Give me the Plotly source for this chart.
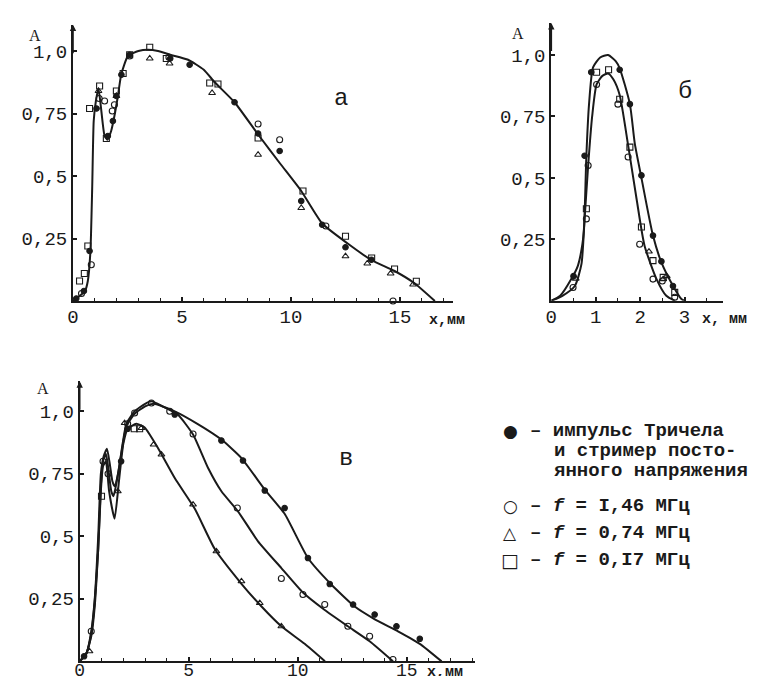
import plotly.graph_objects as go

W, H = 759, 676
INK = "#1a1a1a"
MONO = "Liberation Mono, DejaVu Sans Mono, monospace"

# ---------------- panel a: one fitted curve + four measured series ----------
a_curve_x = [0, 0.3, 0.55, 0.68, 0.8, 0.88, 0.95, 1.05, 1.17, 1.3, 1.45, 1.58, 1.75, 1.9,
             2.06, 2.21, 2.52, 3.0, 3.44, 3.9, 4.46, 5.28, 6.0, 6.5, 7.41, 8.5, 9.5,
             10.47, 11.43, 12.6, 13.7, 14.75, 15.65, 16.6]
a_curve_y = [0, 0.02, 0.04, 0.08, 0.2, 0.45, 0.72, 0.8, 0.85, 0.76, 0.66, 0.645, 0.68, 0.74,
             0.82, 0.905, 0.98, 1.0, 1.005, 1.0, 0.985, 0.965, 0.925, 0.875, 0.795, 0.665, 0.55,
             0.44, 0.31, 0.23, 0.163, 0.12, 0.072, 0.0]

a_dot_x = [0.15, 0.5, 0.76, 1.08, 1.6, 1.83, 1.99, 2.22, 2.6, 4.46, 5.35, 7.41, 8.49, 9.48,
           10.47, 11.43, 12.5, 13.69]
a_dot_y = [0.01, 0.04, 0.2, 0.77, 0.66, 0.72, 0.82, 0.905, 0.985, 0.97, 0.945, 0.795, 0.67,
           0.6, 0.4, 0.305, 0.215, 0.165]
a_circ_x = [0.39, 0.84, 1.2, 1.45, 1.8, 1.9, 2.6, 4.4, 8.49, 9.48, 11.6, 14.68]
a_circ_y = [0.03, 0.145, 0.81, 0.8, 0.76, 0.785, 0.98, 0.975, 0.708, 0.645, 0.3, 0.0]
a_tri_x = [1.17, 1.99, 3.52, 4.43, 6.38, 8.49, 10.47, 12.5, 13.5, 14.57, 15.6]
a_tri_y = [0.84, 0.82, 0.97, 0.95, 0.832, 0.585, 0.372, 0.179, 0.15, 0.11, 0.066]
a_sq_x = [0.3, 0.52, 0.68, 0.76, 1.22, 1.53, 1.99, 2.3, 2.6, 3.52, 4.28, 6.27, 6.65, 8.49,
          10.55, 12.5, 13.7, 14.75, 15.75]
a_sq_y = [0.08, 0.11, 0.22, 0.77, 0.86, 0.65, 0.84, 0.91, 0.985, 1.015, 0.97, 0.872, 0.868,
          0.652, 0.44, 0.259, 0.172, 0.128, 0.079]

# ---------------- panel б: two fitted curves ----------------
b_up_x = [0, 0.2, 0.45, 0.6, 0.7, 0.74, 0.79, 0.85, 0.94, 1.1, 1.28, 1.45, 1.54, 1.77, 1.88,
          2.03, 2.29, 2.48, 2.74, 2.93, 3.0]
b_up_y = [0, 0.02, 0.088, 0.143, 0.23, 0.306, 0.59, 0.8, 0.95, 0.99, 1.0, 0.975, 0.946, 0.8,
          0.64, 0.5, 0.265, 0.156, 0.061, 0.007, 0.0]
b_lo_x = [0, 0.25, 0.53, 0.68, 0.75, 0.83, 0.92, 1.02, 1.15, 1.28, 1.4, 1.54, 1.73, 1.92, 2.1,
          2.37, 2.59, 2.78]
b_lo_y = [0, 0.02, 0.06, 0.15, 0.333, 0.55, 0.75, 0.88, 0.915, 0.925, 0.9, 0.837, 0.633,
          0.415, 0.224, 0.088, 0.02, 0.0]

b_dot_x = [0.5, 0.75, 0.9, 1.54, 1.77, 2.03, 2.29, 2.48, 2.74]
b_dot_y = [0.1, 0.59, 0.93, 0.94, 0.8, 0.51, 0.265, 0.16, 0.06]
b_circ_x = [0.49, 0.79, 0.83, 1.02, 1.5, 1.73, 1.99, 2.29, 2.5, 2.78]
b_circ_y = [0.054, 0.333, 0.55, 0.88, 0.8, 0.585, 0.23, 0.088, 0.08, 0.014]
b_tri_x = [0.55, 2.2, 2.52, 2.6]
b_tri_y = [0.09, 0.2, 0.088, 0.1]
b_sq_x = [0.79, 1.02, 1.29, 1.54, 1.77, 2.03, 2.29, 2.52, 2.78]
b_sq_y = [0.374, 0.93, 0.94, 0.82, 0.625, 0.3, 0.163, 0.095, 0.034]

# ---------------- panel в: three fitted curves ----------------
c_dot_cx = [0, 0.3, 0.53, 0.69, 0.85, 0.97, 1.07, 1.2, 1.3, 1.45, 1.55, 1.7, 1.91, 2.14, 2.52,
            3.0, 3.4, 4.36, 5.4, 6.5, 7.42, 8.49, 9.4, 10.47, 11.54, 12.6, 13.5, 14.6, 15.6, 16.6]
c_dot_cy = [0, 0.03, 0.11, 0.24, 0.45, 0.7, 0.8, 0.83, 0.78, 0.68, 0.66, 0.72, 0.83, 0.94,
            0.99, 1.02, 1.03, 1.0, 0.95, 0.887, 0.813, 0.687, 0.59, 0.413, 0.307, 0.22, 0.17,
            0.12, 0.07, 0.0]
c_circ_cx = [0, 0.3, 0.53, 0.69, 0.85, 0.97, 1.1, 1.25, 1.38, 1.5, 1.6, 1.76, 1.95, 2.14, 2.52,
             3.0, 3.29, 3.8, 4.5, 5.2, 5.89, 6.5, 7.26, 8.18, 9.25, 10.24, 11.24, 12.3, 13.3, 14.37]
c_circ_cy = [0, 0.03, 0.12, 0.25, 0.5, 0.75, 0.82, 0.85, 0.79, 0.72, 0.7, 0.75, 0.86, 0.95,
             1.0, 1.03, 1.04, 1.02, 0.987, 0.907, 0.773, 0.68, 0.6, 0.48, 0.373, 0.275, 0.205,
             0.14, 0.08, 0.0]
c_tri_cx = [0, 0.3, 0.53, 0.69, 0.85, 0.97, 1.07, 1.2, 1.35, 1.6, 1.8, 2.0, 2.2, 2.6, 2.98,
            3.59, 4.36, 5.28, 6.19, 7.42, 8.33, 9.25, 10.32, 11.25]
c_tri_cy = [0, 0.03, 0.1, 0.22, 0.45, 0.68, 0.78, 0.8, 0.68, 0.57, 0.72, 0.87, 0.93, 0.95,
            0.935, 0.853, 0.733, 0.61, 0.45, 0.31, 0.22, 0.14, 0.07, 0.0]

c_dot_x = [0.2, 1.9, 2.2, 4.36, 6.5, 7.49, 8.49, 9.4, 10.47, 11.47, 12.54, 13.53, 14.53, 15.6]
c_dot_y = [0.02, 0.8, 0.93, 0.987, 0.883, 0.803, 0.683, 0.613, 0.413, 0.309, 0.227, 0.187,
           0.14, 0.09]
c_circ_x = [0.53, 1.07, 1.3, 2.2, 2.52, 3.29, 4.13, 5.2, 7.23, 9.25, 10.24, 11.24, 12.3,
            13.3, 14.37]
c_circ_y = [0.12, 0.8, 0.75, 0.95, 0.993, 1.033, 1.0, 0.909, 0.613, 0.331, 0.267, 0.227,
            0.14, 0.1, 0.007]
c_tri_x = [0.45, 1.75, 2.06, 2.83, 3.39, 3.75, 5.2, 6.27, 7.42, 8.26, 9.25]
c_tri_y = [0.04, 0.68, 0.953, 0.933, 0.867, 0.827, 0.627, 0.44, 0.32, 0.233, 0.14]
c_sq_x = [1.0, 2.5, 2.75]
c_sq_y = [0.66, 0.93, 0.93]

y_tickvals = [0.25, 0.5, 0.75, 1.0]
y_ticktext = ["0,25", "0,5", "0,75", "1,0"]

legend_lines = ["импульс Тричела", "и стример посто-", "янного напряжения"]
legend_freq = ["I,46", "0,74", "0,I7"]


def px(x):
    return x / W


def py(y):
    return 1 - y / H


fig = go.Figure()


def curve(xs, ys, ax, smooth=0.6):
    fig.add_trace(go.Scatter(x=xs, y=ys, mode="lines", xaxis="x" + ax, yaxis="y" + ax,
                             line=dict(color=INK, width=2, shape="spline", smoothing=smooth),
                             hoverinfo="skip", showlegend=False))


def pts(xs, ys, ax, sym):
    filled = sym == "circle"
    fig.add_trace(go.Scatter(
        x=xs, y=ys, mode="markers", xaxis="x" + ax, yaxis="y" + ax, cliponaxis=False,
        marker=dict(symbol=sym, size=5.5 if filled else 6, color=INK,
                    line=dict(color=INK, width=1.1)),
        showlegend=False))


SYMS = ["circle-open", "triangle-up-open", "square-open", "circle"]

curve(a_curve_x, a_curve_y, "", 0.5)
for (xs, ys), s in zip([(a_circ_x, a_circ_y), (a_tri_x, a_tri_y), (a_sq_x, a_sq_y),
                        (a_dot_x, a_dot_y)], SYMS):
    pts(xs, ys, "", s)

curve(b_up_x, b_up_y, "2", 0.6)
curve(b_lo_x, b_lo_y, "2", 0.6)
for (xs, ys), s in zip([(b_circ_x, b_circ_y), (b_tri_x, b_tri_y), (b_sq_x, b_sq_y),
                        (b_dot_x, b_dot_y)], SYMS):
    pts(xs, ys, "2", s)

curve(c_dot_cx, c_dot_cy, "3", 0.5)
curve(c_circ_cx, c_circ_cy, "3", 0.5)
curve(c_tri_cx, c_tri_cy, "3", 0.5)
for (xs, ys), s in zip([(c_circ_x, c_circ_y), (c_tri_x, c_tri_y), (c_sq_x, c_sq_y),
                        (c_dot_x, c_dot_y)], SYMS):
    pts(xs, ys, "3", s)

tickfont = dict(family=MONO, size=19, color=INK)


def xax(x0, x1, rng, major, minor, anchor, standoff=-3, fsize=19):
    return dict(domain=[px(x0), px(x1)], range=rng, anchor=anchor, showline=True,
                linecolor=INK, linewidth=2, showgrid=False, zeroline=False, automargin=False,
                tickvals=major, ticktext=[str(v) for v in major], ticks="inside", ticklen=4,
                tickcolor=INK, tickwidth=1.5, tickfont=dict(tickfont, size=fsize),
                ticklabelstandoff=standoff,
                minor=dict(dtick=minor, ticks="inside", ticklen=3, tickcolor=INK, tickwidth=1.2,
                           showgrid=False))


def yax(y0, y1, rng, anchor):
    return dict(domain=[py(y0), py(y1)], range=rng, anchor=anchor, showline=True,
                linecolor=INK, linewidth=2, showgrid=False, zeroline=False, automargin=False,
                tickvals=y_tickvals, ticktext=y_ticktext, ticks="inside", ticklen=4,
                tickcolor=INK, tickwidth=1.5, tickfont=tickfont)


fig.update_layout(
    width=W, height=H, margin=dict(l=0, r=0, t=0, b=0, autoexpand=False),
    paper_bgcolor="white", plot_bgcolor="white", showlegend=False,
    xaxis=xax(65, 445, [0, (445 - 65) / 21.8], [0, 5, 10, 15], 1, "y"),
    yaxis=yax(293, 16.7, [0, (293 - 16.7) / 250], "x"),
    xaxis2=xax(543.3, 715, [0, (715 - 543.3) / 44.4], [0, 1, 2, 3], 0.5, "y2"),
    yaxis2=yax(292.7, 15, [0, (292.7 - 15) / 245.7], "x2"),
    xaxis3=xax(71.7, 467, [0, (467 - 71.7) / 21.8], [0, 5, 10, 15], 1, "y3", -9, 18),
    yaxis3=yax(653.3, 373.3, [0, (653.3 - 373.3) / 250], "x3"),
)

ann = []


def text(x, y, s, size=19, xanchor="center", bold=False, family=MONO):
    ann.append(dict(x=px(x), y=py(y), xref="paper", yref="paper", text=s, showarrow=False,
                    xanchor=xanchor, yanchor="middle", borderpad=0,
                    font=dict(family=family, size=size, color=INK,
                              weight="bold" if bold else "normal")))


# y-axis arrows
for xr, yr, top in [("x", "y", (293 - 16.7) / 250), ("x2", "y2", (292.7 - 15) / 245.7),
                    ("x3", "y3", (653.3 - 373.3) / 250)]:
    ann.append(dict(x=0, y=top, ax=0, ay=top - 0.12, xref=xr, yref=yr, axref=xr, ayref=yr,
                    text="", showarrow=True, arrowhead=2, arrowsize=0.8, arrowwidth=1.6,
                    arrowcolor=INK, standoff=0))

# axis titles
SERIF = "Liberation Serif, DejaVu Serif, serif"
text(27, 27, "A", 16, family=SERIF)
text(510, 25, "A", 16, family=SERIF)
text(35, 380, "A", 16, family=SERIF)
text(420, 312, "x,мм", 15, "left", True)
text(693, 311, "x, мм", 15, "left", True)
text(418, 664, "x,мм", 15, "left", True)

# panel letters
text(333, 90, "а", 24)
text(677, 83, "б", 24)
text(338, 450, "в", 24)

# legend
text(502, 423, "●", 17, family="DejaVu Sans")
text(502, 498, "○", 17, family="DejaVu Sans")
text(502, 525, "△", 17, family="DejaVu Sans")
text(502, 552, "□", 19, family="DejaVu Sans")
text(521, 423, "–&nbsp;" + legend_lines[0], 19, "left", True)
text(545, 443, legend_lines[1], 19, "left", True)
text(545, 463, legend_lines[2], 19, "left", True)
for yy, fq in zip([498, 525, 552], legend_freq):
    text(521, yy, "–&nbsp;<i>f</i>&nbsp;=&nbsp;" + fq + "&nbsp;МГц", 19, "left", True)

fig.update_layout(annotations=ann)
fig.write_html("out.html")
